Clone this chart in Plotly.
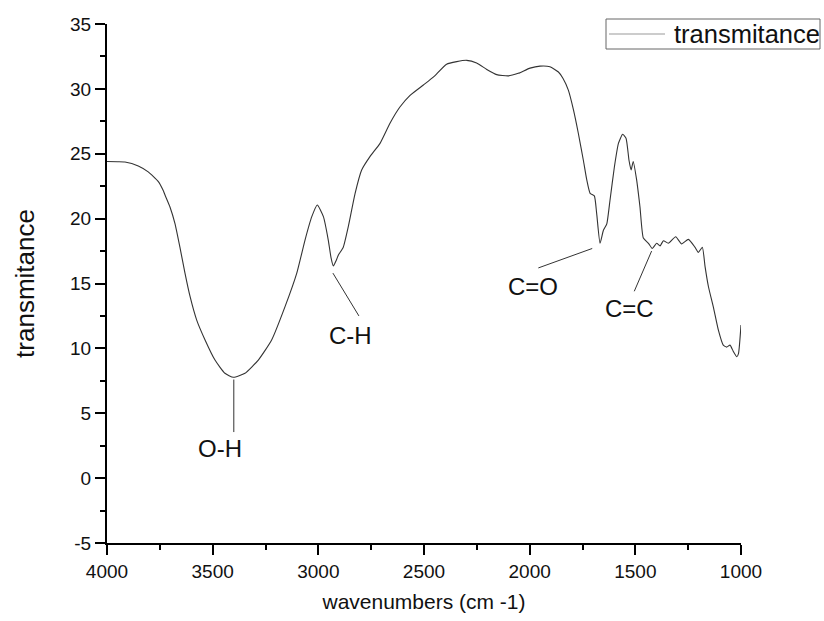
import plotly.graph_objects as go

wavenumber = [4000, 3950, 3915, 3852, 3805, 3757, 3735, 3725, 3702, 3678, 3655, 3631, 3607, 3576,
              3536, 3489, 3442, 3402, 3347, 3284, 3221, 3158, 3102, 3063, 3031, 3005, 2976, 2953,
              2940, 2929, 2915, 2905, 2882, 2858, 2826, 2795, 2755, 2708, 2661, 2614, 2566, 2503,
              2456, 2393, 2345, 2298, 2251, 2203, 2156, 2101, 2054, 1998, 1951, 1904, 1864, 1842,
              1817, 1793, 1770, 1746, 1730, 1714, 1694, 1683, 1667, 1651, 1635, 1620, 1599, 1580,
              1560, 1544, 1530, 1520, 1510, 1494, 1478, 1462, 1438, 1420, 1399, 1383, 1367, 1344,
              1309, 1281, 1249, 1218, 1202, 1183, 1170, 1154, 1131, 1107, 1084, 1068, 1052, 1036,
              1020, 1012, 1000]
transmitance = [24.4, 24.38, 24.36, 24.06, 23.6, 22.85, 22.2, 21.8, 20.9, 19.6, 17.8, 15.8, 14.0, 12.2,
                10.65, 9.1, 8.08, 7.77, 8.08, 9.1, 10.65, 13.2, 15.8, 18.35, 20.15, 21.05, 20.15, 18.35,
                17.0, 16.35, 16.8, 17.2, 17.8, 19.4, 21.95, 23.75, 24.8, 25.8, 27.35, 28.6, 29.5, 30.3,
                30.9, 31.9, 32.1, 32.2, 32.0, 31.5, 31.1, 31.0, 31.2, 31.6, 31.75, 31.7, 31.3, 30.8,
                29.9, 28.4, 26.6, 24.5, 23.0, 21.95, 21.75, 20.4, 18.1, 19.1, 19.6, 21.4, 24.0, 25.8,
                26.5, 26.2, 24.5, 23.75, 24.4, 23.0, 20.9, 18.5, 18.1, 17.7, 18.1, 17.9, 18.3, 18.1,
                18.6, 18.05, 18.4, 17.8, 17.4, 17.8, 16.3, 14.75, 13.2, 11.4, 10.25, 10.1, 10.25, 9.75,
                9.35, 9.6, 11.8]

x_tick_vals = [4000, 3500, 3000, 2500, 2000, 1500, 1000]
x_tick_text = ["4000", "3500", "3000", "2500", "2000", "1500", "1000"]
y_tick_vals = [-5, 0, 5, 10, 15, 20, 25, 30, 35]
y_tick_text = ["-5", "0", "5", "10", "15", "20", "25", "30", "35"]

# peak labels: text, text position, leader line start, leader line end
label_texts = ["O-H", "C-H", "C=O", "C=C"]
label_x = [3465, 2850, 1982, 1527]
label_y = [2.3, 11.0, 14.8, 13.1]
leader_x0 = [3400, 2931, 1704, 1423]
leader_y0 = [7.6, 15.8, 17.7, 17.5]
leader_x1 = [3400, 2808, 1959, 1505]
leader_y1 = [3.55, 12.5, 16.2, 14.4]

FONT = "Arial, Liberation Sans, sans-serif"

fig = go.Figure()
fig.add_trace(go.Scatter(x=wavenumber, y=transmitance, mode="lines",
                         line=dict(color="#333333", width=1.1, shape="spline", smoothing=0.5),
                         name="transmitance", showlegend=False))

for t, tx, ty, x0, y0, x1, y1 in zip(label_texts, label_x, label_y, leader_x0, leader_y0, leader_x1, leader_y1):
    fig.add_shape(type="line", xref="x", yref="y", x0=x0, y0=y0, x1=x1, y1=y1,
                  line=dict(color="#333333", width=1))
    fig.add_annotation(x=tx, y=ty, xref="x", yref="y", text=t, showarrow=False,
                       font=dict(family=FONT, size=24, color="#111111"),
                       xanchor="center", yanchor="middle")

# legend box drawn in pixel-equivalent paper coords
W, H = 824, 621
ML, MR, MT, MB = 107, 83, 24, 78
PW, PH = W - ML - MR, H - MT - MB
def px(xp):
    return (xp - ML) / PW
def py(yp):
    return (H - MB - yp) / PH

fig.add_shape(type="rect", xref="paper", yref="paper", x0=px(606), x1=px(820), y0=py(49), y1=py(19),
              line=dict(color="#666666", width=1), fillcolor="white")
fig.add_shape(type="line", xref="paper", yref="paper", x0=px(609), x1=px(665), y0=py(34), y1=py(34),
              line=dict(color="#999999", width=1))
fig.add_annotation(xref="paper", yref="paper", x=px(672), y=py(34), text="transmitance", showarrow=False,
                   xanchor="left", yanchor="middle", font=dict(family=FONT, size=25.5, color="#111111"))

fig.update_layout(
    width=W, height=H,
    margin=dict(l=ML, r=MR, t=MT, b=MB, pad=0),
    paper_bgcolor="white", plot_bgcolor="white",
    font=dict(family=FONT, color="#111111"),
    showlegend=False,
    xaxis=dict(range=[4000, 1000], tickvals=x_tick_vals, ticktext=x_tick_text, showgrid=False, zeroline=False,
               showline=True, linecolor="black", linewidth=2,
               ticks="outside", ticklen=10, tickwidth=2, tickcolor="black",
               minor=dict(dtick=250, ticks="outside", ticklen=5, tickwidth=2, tickcolor="black", showgrid=False),
               tickfont=dict(size=19), title=dict(text="wavenumbers (cm -1)", font=dict(size=21), standoff=14)),
    yaxis=dict(range=[-5, 35], tickvals=y_tick_vals, ticktext=y_tick_text, showgrid=False, zeroline=False,
               showline=True, linecolor="black", linewidth=2,
               ticks="outside", ticklen=10, tickwidth=2, tickcolor="black",
               minor=dict(dtick=2.5, ticks="outside", ticklen=5, tickwidth=2, tickcolor="black", showgrid=False),
               tickfont=dict(size=19), title=dict(text="transmitance", font=dict(size=26), standoff=28)),
)

fig.write_html("out.html")
